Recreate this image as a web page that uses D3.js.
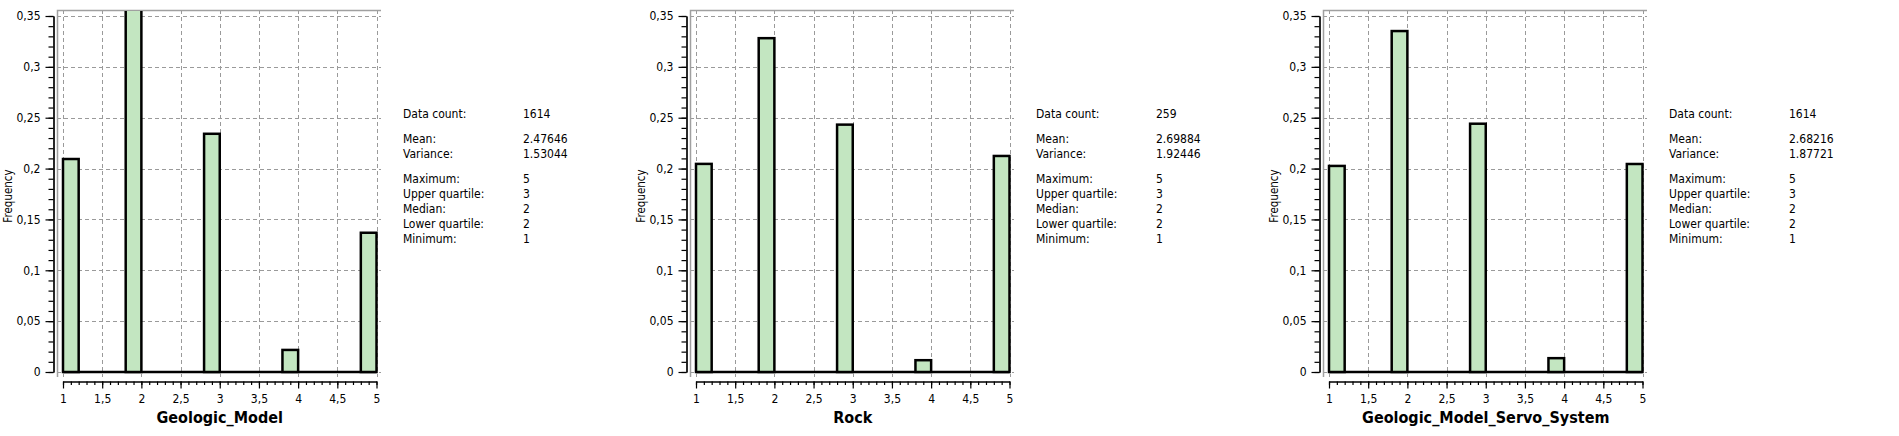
<!DOCTYPE html>
<html>
<head>
<meta charset="utf-8">
<script src="https://cdn.jsdelivr.net/npm/d3@7"></script>
<style>
  body { margin: 0; background: #fff; }
  svg { display: block; }
  text { font-family: "DejaVu Sans Condensed", "DejaVu Sans", sans-serif; fill: #000; }
</style>
</head>
<body>
<svg id="chart" width="1899" height="436"></svg>
<script>
// histogram bins that hold data (the other bins are empty)
var binStarts = [1, 1.8, 2.8, 3.8, 4.8];
var binWidth = 0.2;

var titles = ['Geologic_Model', 'Rock', 'Geologic_Model_Servo_System'];
var freqGeologic = [0.2094, 0.3978, 0.2342, 0.0217, 0.1369];
var freqRock = [0.2046, 0.3282, 0.2432, 0.0116, 0.2124];
var freqServo = [0.2026, 0.3352, 0.2441, 0.0136, 0.2045];

var yTicks = [0, 0.05, 0.1, 0.15, 0.2, 0.25, 0.3, 0.35];
var xTicks = [1, 1.5, 2, 2.5, 3, 3.5, 4, 4.5, 5];

var statLabels = ['Data count:', 'Mean:', 'Variance:', 'Maximum:', 'Upper quartile:', 'Median:', 'Lower quartile:', 'Minimum:'];
var statsGeologic = ['1614', '2.47646', '1.53044', '5', '3', '2', '2', '1'];
var statsRock = ['259', '2.69884', '1.92446', '5', '3', '2', '2', '1'];
var statsServo = ['1614', '2.68216', '1.87721', '5', '3', '2', '2', '1'];
var statGroup = [0, 1, 1, 2, 2, 2, 2, 2];

var panels = [
	{ title: titles[0], freq: freqGeologic, stats: statsGeologic },
	{ title: titles[1], freq: freqRock, stats: statsRock },
	{ title: titles[2], freq: freqServo, stats: statsServo }
];

var svg = d3.select('#chart');
var panelWidth = 633;
var fmt = function(d) { return String(d).replace('.', ','); };

var x = d3.scaleLinear().domain([1, 5]).range([63, 376.5]);
var y = d3.scaleLinear().domain([0, 0.35]).range([372, 16]);

var frame = { left: 57, top: 10, right: 381, bottom: 377 };

panels.forEach(function(p, i) {
	var g = svg.append('g').attr('transform', 'translate(' + (i * panelWidth) + ',0)');

	g.append('clipPath').attr('id', 'clip' + i)
		.append('rect')
		.attr('x', frame.left).attr('y', frame.top + 1)
		.attr('width', frame.right - frame.left).attr('height', frame.bottom - frame.top);

	// grid
	g.append('g').selectAll('line').data(yTicks).enter().append('line')
		.attr('x1', frame.left).attr('x2', frame.right)
		.attr('y1', function(d) { return Math.round(y(d)) + 0.5; })
		.attr('y2', function(d) { return Math.round(y(d)) + 0.5; })
		.attr('stroke', '#9a9a9a').attr('stroke-dasharray', '4,3');
	g.append('g').selectAll('line').data(xTicks).enter().append('line')
		.attr('y1', frame.top).attr('y2', frame.bottom)
		.attr('x1', function(d) { return Math.round(x(d)) + 0.5; })
		.attr('x2', function(d) { return Math.round(x(d)) + 0.5; })
		.attr('stroke', '#9a9a9a').attr('stroke-dasharray', '4,3');

	// frame (top and left edges)
	g.append('path')
		.attr('d', 'M' + (frame.left + 0.5) + ',' + frame.bottom + 'V' + (frame.top + 0.5) + 'H' + frame.right)
		.attr('fill', 'none').attr('stroke', '#a0a0a0').attr('stroke-width', 1.5);

	var plot = g.append('g').attr('clip-path', 'url(#clip' + i + ')');

	// empty bins along zero
	plot.append('line')
		.attr('x1', x(1)).attr('x2', x(5))
		.attr('y1', y(0)).attr('y2', y(0))
		.attr('stroke', '#000').attr('stroke-width', 2.5);

	plot.selectAll('rect.bar').data(p.freq).enter().append('rect')
		.attr('class', 'bar')
		.attr('x', function(d, j) { return x(binStarts[j]); })
		.attr('width', function(d, j) { return x(binStarts[j] + binWidth) - x(binStarts[j]); })
		.attr('y', function(d) { return y(d); })
		.attr('height', function(d) { return y(0) - y(d); })
		.attr('fill', '#c3e6c1').attr('stroke', '#000').attr('stroke-width', 2.5);

	// y axis
	var yAxis = g.append('g').attr('transform', 'translate(53.5,0)')
		.call(d3.axisLeft(y).tickValues(yTicks).tickFormat(fmt).tickSize(8).tickSizeOuter(0).tickPadding(5));
	g.append('g').attr('transform', 'translate(53.5,0)')
		.call(d3.axisLeft(y).tickValues(d3.range(0, 0.3501, 0.01)).tickFormat('').tickSize(5).tickSizeOuter(0));

	// x axis
	g.append('g').attr('transform', 'translate(0,381.5)')
		.call(d3.axisBottom(x).tickValues(xTicks).tickFormat(fmt).tickSize(7).tickSizeOuter(0).tickPadding(6));
	g.append('g').attr('transform', 'translate(0,381.5)')
		.call(d3.axisBottom(x).tickValues(d3.range(1, 5.001, 0.1)).tickFormat('').tickSize(3.5).tickSizeOuter(0));

	g.selectAll('.tick text').style('font-size', '12px').attr('fill', '#000');
	g.selectAll('.domain, .tick line').attr('stroke', '#000').attr('stroke-width', 1.2);

	// axis titles
	g.append('text')
		.attr('transform', 'translate(12,196) rotate(-90)')
		.attr('text-anchor', 'middle')
		.style('font-size', '11.5px')
		.text('Frequency');
	g.append('text')
		.attr('x', (x(1) + x(5)) / 2).attr('y', 423)
		.attr('text-anchor', 'middle')
		.style('font-size', '16px').style('font-weight', 'bold')
		.text(p.title);

	// statistics block
	var rowY = function(j) { return 114 + j * 14.8 + statGroup[j] * 10.4; };
	g.append('g').selectAll('text').data(statLabels).enter().append('text')
		.attr('x', 403).attr('y', function(d, j) { return rowY(j); }).attr('dy', '0.35em')
		.style('font-size', '12px').text(function(d) { return d; });
	g.append('g').selectAll('text').data(p.stats).enter().append('text')
		.attr('x', 523).attr('y', function(d, j) { return rowY(j); }).attr('dy', '0.35em')
		.style('font-size', '12px').text(function(d) { return d; });
});
</script>
</body>
</html>
